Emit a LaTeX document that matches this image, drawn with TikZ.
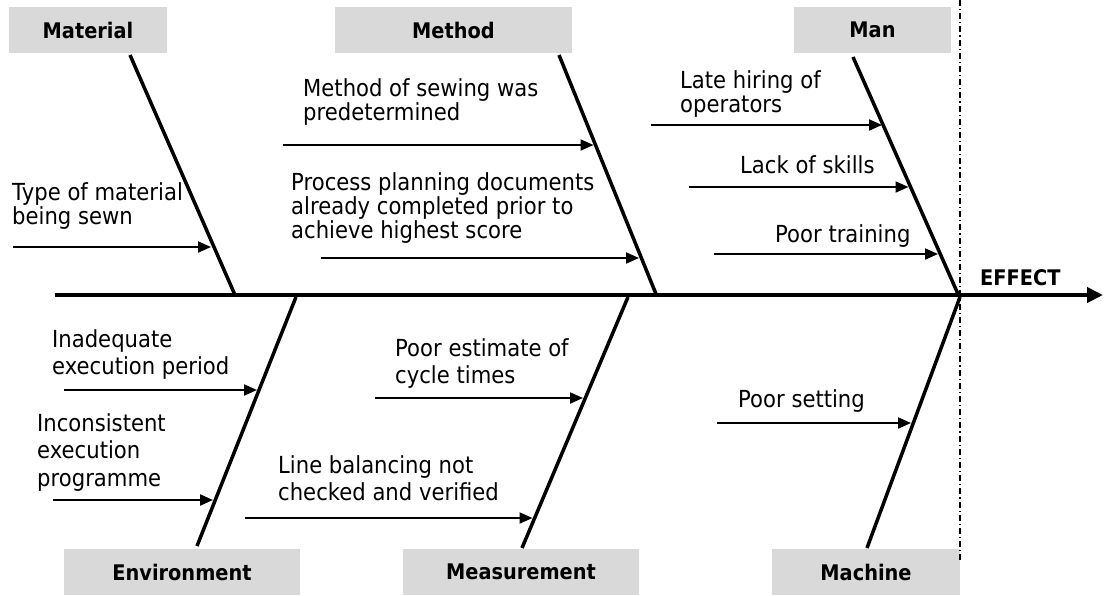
\documentclass[tikz,border=0pt]{standalone}
\usepackage{fontspec}
\setmainfont{DejaVu Sans}[FakeStretch=0.9]
\usetikzlibrary{arrows.meta}
\definecolor{hdrgray}{HTML}{D9D9D9}
\newcommand\fstrut{\vrule height 18.5pt depth 0pt width 0pt}
\begin{document}
\begin{tikzpicture}[x=1pt,y=-1pt,
  hdr/.style={fill=hdrgray, minimum height=46pt, inner sep=0pt,
    font=\fontsize{21.5}{24}\selectfont\bfseries},
  causetop/.style={anchor=north west, inner sep=0pt, align=left,
    font=\fontsize{23.5}{24}\selectfont},
  causebot/.style={anchor=north west, inner sep=0pt, align=left,
    font=\fontsize{23.5}{27.5}\selectfont},
  rib/.style={line width=3.5pt},
  spine/.style={line width=4.5pt, -{Triangle[length=16pt,width=15pt]}},
  carrow/.style={line width=2pt, -{Triangle[length=13pt,width=11pt]}},
  effectline/.style={line width=1.3pt, dash pattern=on 6pt off 3pt on 1.2pt off 3pt}
]
\useasboundingbox (0,0) rectangle (1104,595);

% headers
\node[hdr, minimum width=158pt] (material) at (88,30) {Material};
\node[hdr, minimum width=237pt] (method) at (453.5,30) {Method};
\node[hdr, minimum width=157pt] (man) at (872.5,30) {Man};
\node[hdr, minimum width=236pt] (environment) at (182,572) {Environment};
\node[hdr, minimum width=236pt] (measurement) at (521,572) {Measurement};
\node[hdr, minimum width=188pt] (machine) at (866,572) {Machine};

% effect separator
\coordinate (sepTop) at (960,0);
\coordinate (sepBot) at (960,562);
\draw[effectline] (sepTop) -- (sepBot);

% spine
\coordinate (spineStart) at (55,295);
\coordinate (spineEnd) at (1103,295);
\draw[spine] (spineStart) -- (spineEnd);
\node[anchor=base west, inner sep=0pt, font=\fontsize{21.5}{24}\selectfont\bfseries] (effect) at (980,285) {EFFECT};

% ribs
\coordinate (matTop) at (130,55);   \coordinate (matBot) at (235,295);
\coordinate (metTop) at (559,55);   \coordinate (metBot) at (656,294);
\coordinate (manTop) at (853,57);   \coordinate (manBot) at (958,294);
\coordinate (envTop) at (296,297);  \coordinate (envBot) at (197,546);
\coordinate (meaTop) at (628,297);  \coordinate (meaBot) at (522,548);
\coordinate (macTop) at (960,297);  \coordinate (macBot) at (867,548);
\draw[rib] (matTop) -- (matBot);
\draw[rib] (metTop) -- (metBot);
\draw[rib] (manTop) -- (manBot);
\draw[rib] (envTop) -- (envBot);
\draw[rib] (meaTop) -- (meaBot);
\draw[rib] (macTop) -- (macBot);

% cause texts (top)
\node[causetop] (t1) at (12,182) {\fstrut Type of material\\being sewn};
\node[causetop] (t2) at (303,78) {\fstrut Method of sewing was\\predetermined};
\node[causetop] (t3) at (291,171.5) {\fstrut Process planning documents\\already completed prior to\\achieve highest score};
\node[causetop] (t4) at (680,70) {\fstrut Late hiring of\\operators};
\node[causetop] (t5) at (740,154.5) {\fstrut Lack of skills};
\node[causetop] (t6) at (775,223.5) {\fstrut Poor training};
% cause texts (bottom)
\node[causebot] (b1) at (52,328.5) {\fstrut Inadequate\\execution period};
\node[causebot] (b2) at (37,412.5) {\fstrut Inconsistent\\execution\\programme};
\node[causebot] (b3) at (395,337.5) {\fstrut Poor estimate of\\cycle times};
\node[causebot] (b4) at (278,454.5) {\fstrut Line balancing not\\checked and verified};
\node[causebot] (b5) at (738,388.5) {\fstrut Poor setting};

% cause arrows
\coordinate (a1s) at (13,247);   \coordinate (a1e) at (211,247);
\coordinate (a2s) at (283,145);  \coordinate (a2e) at (593.5,145);
\coordinate (a3s) at (321,258);  \coordinate (a3e) at (639,258);
\coordinate (a4s) at (651,125);  \coordinate (a4e) at (882,125);
\coordinate (a5s) at (689,187);  \coordinate (a5e) at (908.5,187);
\coordinate (a6s) at (714,254);  \coordinate (a6e) at (938,254);
\coordinate (a7s) at (64,390);   \coordinate (a7e) at (257,390);
\coordinate (a8s) at (53,500);   \coordinate (a8e) at (213,500);
\coordinate (a9s) at (375,398);  \coordinate (a9e) at (583,398);
\coordinate (a10s) at (245,518); \coordinate (a10e) at (532.5,518);
\coordinate (a11s) at (717,423); \coordinate (a11e) at (911,423);
\foreach \i in {1,...,11} {\draw[carrow] (a\i s) -- (a\i e);}
\end{tikzpicture}
\end{document}
